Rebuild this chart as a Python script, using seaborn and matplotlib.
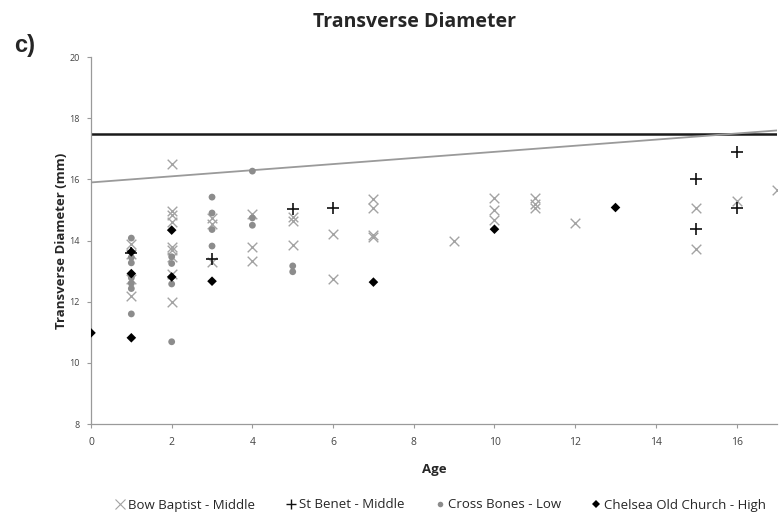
import numpy as np
import pandas as pd
import matplotlib
matplotlib.use("Agg")
import matplotlib.pyplot as plt
from matplotlib.lines import Line2D
import seaborn as sns

# Transverse diameter (mm) by age for each burial site
bow_age = [1, 1, 1, 1, 2, 2, 2, 2, 2, 2, 2, 2, 2, 3, 3, 3, 4, 4, 4, 5, 5, 5,
           6, 6, 7, 7, 7, 7, 9, 10, 10, 10, 11, 11, 11, 12, 15, 15, 16, 17]
bow_td = [13.9, 13.55, 12.75, 12.2, 16.5, 14.95, 14.85, 14.6, 13.79, 13.69, 13.45, 12.92, 12.0,
          14.75, 14.55, 13.3, 14.88, 13.8, 13.34, 14.78, 14.63, 13.84,
          14.21, 12.73, 15.35, 15.05, 14.18, 14.12, 13.99, 15.4, 15.0, 14.67,
          15.38, 15.21, 15.05, 14.58, 15.08, 13.71, 15.29, 15.65]

benet_age = [1, 3, 5, 6, 15, 15, 16, 16]
benet_td = [13.6, 13.38, 15.02, 15.08, 16.0, 14.37, 16.88, 15.05]

cross_age = [1, 1, 1, 1, 1, 1, 1, 2, 2, 2, 2, 3, 3, 3, 3, 4, 4, 4, 5, 5]
cross_td = [14.08, 13.45, 13.27, 12.78, 12.6, 12.43, 11.6, 13.47, 13.25, 12.58, 10.69,
            15.42, 14.9, 14.36, 13.82, 16.27, 14.74, 14.5, 13.17, 12.98]

chelsea_age = [0, 1, 1, 1, 2, 2, 3, 7, 10, 13]
chelsea_td = [10.98, 13.63, 12.92, 10.82, 14.34, 12.81, 12.67, 12.64, 14.37, 15.08]

# Reference level and trend line
ref_level = 17.5
trend_ages = [0, 17]
trend_td = [15.9, 17.6]

series_names = ["Bow Baptist - Middle", "St Benet - Middle",
                "Cross Bones - Low", "Chelsea Old Church - High"]

frames = []
for name, ages, vals in zip(series_names,
                            [bow_age, benet_age, cross_age, chelsea_age],
                            [bow_td, benet_td, cross_td, chelsea_td]):
    frames.append(pd.DataFrame({"Age": ages, "TD": vals, "Site": name}))
df = pd.concat(frames, ignore_index=True)

sns.set_style("white")
plt.rcParams["font.family"] = ["Open Sans", "DejaVu Sans"]

fig = plt.figure(figsize=(7.83, 5.22), dpi=100)
ax = fig.add_axes([0.1162, 0.1877, 0.876, 0.703])

styles = {
    "Bow Baptist - Middle": dict(marker="x", color="#a3a3a3", s=48, linewidth=1.0),
    "St Benet - Middle": dict(marker="+", color="#111111", s=80, linewidth=1.2),
    "Cross Bones - Low": dict(marker="o", color="#8c8c8c", s=24, linewidth=0),
    "Chelsea Old Church - High": dict(marker="D", color="#000000", s=24, linewidth=0),
}

ax.axhline(ref_level, color="#1a1a1a", linewidth=1.8, zorder=1)
sns.lineplot(x=trend_ages, y=trend_td, ax=ax, color="#9a9a9a", linewidth=1.3, zorder=1)

for name in series_names:
    st = styles[name]
    sub = df[df["Site"] == name]
    sns.scatterplot(data=sub, x="Age", y="TD", ax=ax, marker=st["marker"],
                    color=st["color"], s=st["s"], linewidth=st["linewidth"],
                    edgecolor=st["color"] if st["marker"] in ("x", "+") else "none",
                    zorder=3, legend=False)

ax.set_xlim(0, 17)
ax.set_ylim(8, 20)
ax.set_xticks(np.arange(0, 17, 2))
ax.set_yticks(np.arange(8, 21, 2))
for s in ["top", "right"]:
    ax.spines[s].set_visible(False)
for s in ["left", "bottom"]:
    ax.spines[s].set_color("#9a9a9a")
    ax.spines[s].set_linewidth(0.9)
ax.tick_params(axis="both", which="both", direction="out", length=3, width=0.8,
               color="#9a9a9a", labelcolor="#444444", bottom=True, left=True)
ax.tick_params(axis="x", labelsize=7.5, pad=6)
ax.tick_params(axis="y", labelsize=6.5, pad=5)

ax.set_xlabel("Age", fontsize=9.5, fontweight="bold", labelpad=11)
ax.set_ylabel("Transverse Diameter (mm)", fontsize=9.5, fontweight="bold", labelpad=1)

fig.text(415 / 783, 1 - 22 / 522, "Transverse Diameter", ha="center", va="center",
         fontsize=14, fontweight="bold")
fig.text(14 / 783, 1 - 45 / 522, "c)", ha="left", va="center", fontsize=17,
         fontweight="bold", family=["Liberation Sans", "DejaVu Sans"])

handles = [
    Line2D([], [], linestyle="none", marker="x", color="#a3a3a3", markersize=7, markeredgewidth=0.8),
    Line2D([], [], linestyle="none", marker="+", color="#111111", markersize=7, markeredgewidth=1.0),
    Line2D([], [], linestyle="none", marker="o", color="#8c8c8c", markersize=4, markeredgewidth=0),
    Line2D([], [], linestyle="none", marker="D", color="#000000", markersize=4, markeredgewidth=0),
]
fig.legend(handles, series_names, loc="center", bbox_to_anchor=(440 / 783, 1 - 505 / 522),
           ncol=4, frameon=False, fontsize=9.5, handletextpad=0.1, columnspacing=2.2,
           handlelength=1.0)

fig.savefig("out.png", dpi=100)
